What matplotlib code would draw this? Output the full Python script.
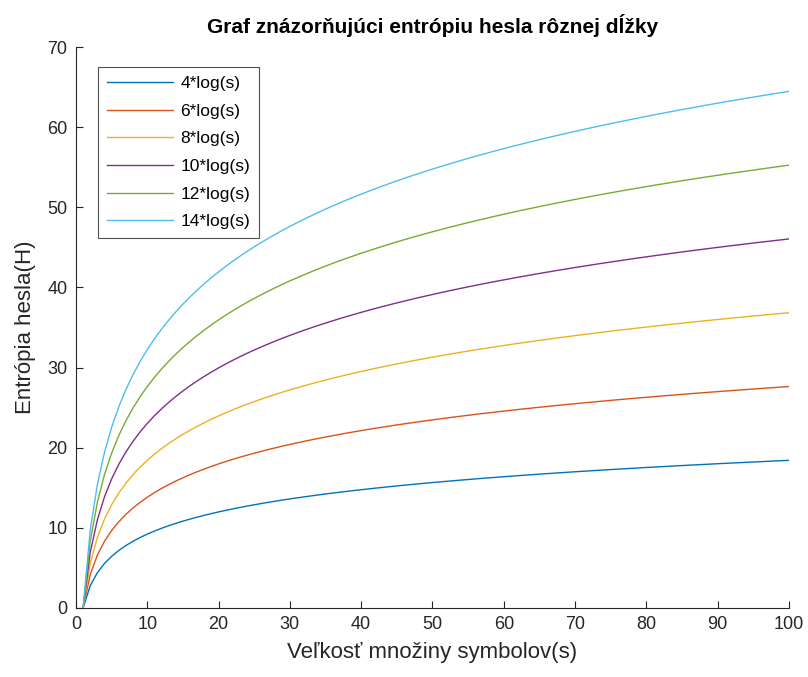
import numpy as np
import matplotlib
matplotlib.use("Agg")
import matplotlib.pyplot as plt

# velkost mnoziny symbolov a nasobky dlzky hesla
s = np.arange(1, 101)
lengths = [4, 6, 8, 10, 12, 14]
labels = ["4*log(s)", "6*log(s)", "8*log(s)", "10*log(s)", "12*log(s)", "14*log(s)"]
colors = ["#0072BD", "#D95319", "#EDB120", "#7E2F8E", "#77AC30", "#4DBEEE"]

plt.rcParams["font.family"] = ["Liberation Sans", "DejaVu Sans"]

fig = plt.figure(figsize=(8.08, 6.77), dpi=100)
ax = fig.add_axes([0.094, 0.102, 0.8825, 0.8285])

for n, lab, c in zip(lengths, labels, colors):
    ax.plot(s, n * np.log(s), color=c, linewidth=1.0, label=lab)

ax.set_xlim(0, 100)
ax.set_ylim(0, 70)
ax.set_xticks(np.arange(0, 101, 10))
ax.set_yticks(np.arange(0, 71, 10))
ax.spines["top"].set_visible(False)
ax.spines["right"].set_visible(False)
for sp in ("left", "bottom"):
    ax.spines[sp].set_color("#262626")
    ax.spines[sp].set_linewidth(0.8)
ax.tick_params(direction="in", length=5, width=0.8, colors="#262626", labelsize=13, pad=6)

ax.set_xlabel("Veľkosť množiny symbolov(s)", fontsize=16, color="#262626", labelpad=6)
ax.set_ylabel("Entrópia hesla(H)", fontsize=16, color="#262626", labelpad=8)
ax.set_title("Graf znázorňujúci entrópiu hesla rôznej dĺžky", fontsize=15, fontweight="bold", pad=10)

leg = ax.legend(loc="upper left", bbox_to_anchor=(0.031, 0.964), fontsize=12.5, frameon=True,
                fancybox=False, edgecolor="#262626", handlelength=3.8, handletextpad=0.45,
                labelspacing=0.72, borderpad=0.5, borderaxespad=0)
leg.get_frame().set_linewidth(0.8)

fig.savefig("out.png", dpi=100)
